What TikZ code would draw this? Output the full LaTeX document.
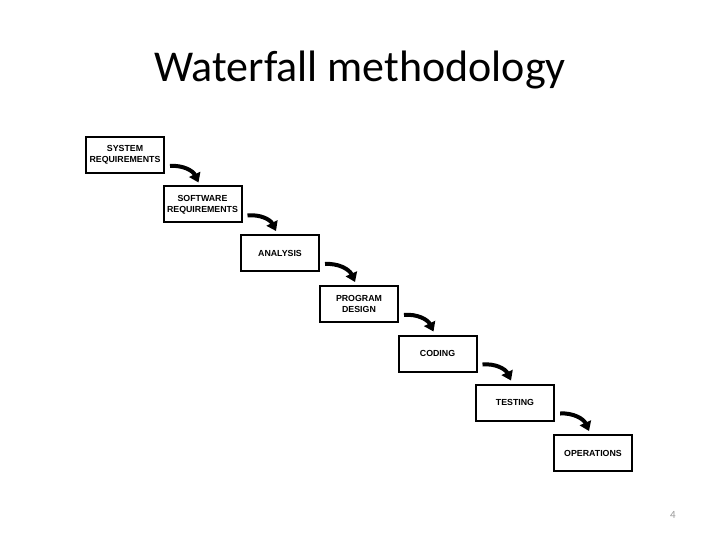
\documentclass[tikz,border=0pt]{standalone}
\usepackage{fontspec}
\setmainfont{Carlito}
\newfontfamily\boxfont{Liberation Sans}
\usetikzlibrary{arrows.meta}
\tikzset{
  stage/.style={draw=black, line width=2pt, minimum width=78pt, minimum height=36pt,
    inner sep=0pt, align=center, font=\boxfont\bfseries\fontsize{8.8}{11}\selectfont},
  fall/.style={line width=4pt, -{Triangle[length=9pt,width=12pt]}, bend left=35}
}
\begin{document}
\begin{tikzpicture}[x=1pt,y=-1pt]
\useasboundingbox (0,0) rectangle (720,540);
\node[font=\fontsize{44}{50}\selectfont] (title) at (360,70) {Waterfall methodology};
\node[stage] (b1) at (125,155) {SYSTEM\\REQUIREMENTS};
\node[stage] (b2) at (202.5,204.5) {SOFTWARE\\REQUIREMENTS};
\node[stage] (b3) at (280,253) {ANALYSIS};
\node[stage] (b4) at (359,304) {PROGRAM\\DESIGN};
\node[stage] (b5) at (437.5,353.5) {CODING};
\node[stage] (b6) at (515,402.5) {TESTING};
\node[stage] (b7) at (593,453) {OPERATIONS};
\foreach \a/\b in {b1/b2,b2/b3,b3/b4,b4/b5,b5/b6,b6/b7}{
  \draw[fall] ([shift={(5,-8)}]\a.south east) to ([shift={(-44,-3)}]\b.north east);
}
\node[text=gray!80, font=\fontsize{11}{12}\selectfont] (pg) at (673,515) {4};
\end{tikzpicture}
\end{document}
